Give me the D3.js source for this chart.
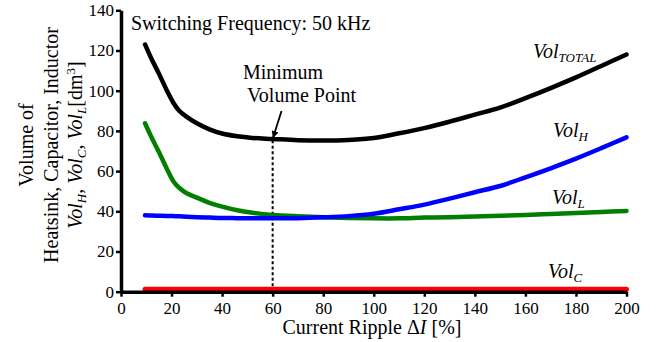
<!DOCTYPE html>
<html><head><meta charset="utf-8">
<script src="https://cdn.jsdelivr.net/npm/d3@7"></script>
<style>body{margin:0;background:#fff;}</style></head>
<body>
<svg id="c" width="664" height="342" font-family="Liberation Serif"></svg>
<script>
const ripple   = [9.5,12,15,18,20.7,23,26,30,35,40,46,52,60,70,80,90,100,110,120,130,140,150,160,170,180,190,200];
const volTotal = [123,116,108.5,100.5,94,90,87,83.8,80.8,78.7,77.3,76.5,76,75.4,75.2,75.5,76.5,78.8,81.4,84.6,88.1,91.6,96.3,101.3,106.6,112.3,118];
const volH     = [38,37.9,37.8,37.7,37.6,37.5,37.3,37.1,36.9,36.7,36.6,36.5,36.5,36.6,37,37.6,38.8,41,43.3,46.3,49.5,52.6,56.9,61.4,66.2,71.4,76.8];
const volL     = [83.8,77,69.5,61.5,55,51.7,49,46.8,44.2,42.3,40.5,39.3,38.2,37.5,37,36.7,36.5,36.5,36.9,37.1,37.4,37.8,38.2,38.7,39.2,39.7,40.2];
const volC     = [1.2,1.2,1.2,1.2,1.2,1.2,1.2,1.2,1.2,1.2,1.2,1.2,1.2,1.2,1.2,1.2,1.2,1.2,1.2,1.2,1.2,1.2,1.2,1.2,1.2,1.2,1.2];
const xTicks = [0,20,40,60,80,100,120,140,160,180,200];
const yTicks = [0,20,40,60,80,100,120,140];
const minPoint = {x:60, y:76};

const FF = "Liberation Serif";
const svg = d3.select("#c");
const x = d3.scaleLinear().domain([0,200]).range([121,626.5]);
const y = d3.scaleLinear().domain([0,140]).range([291.7,10.3]);

const line = d3.line().x((d,i)=>x(ripple[i])).y(d=>y(d)).curve(d3.curveCatmullRom.alpha(0.5));

svg.append("line").attr("x1",x(minPoint.x)).attr("x2",x(minPoint.x))
  .attr("y1",y(0)).attr("y2",y(minPoint.y)).attr("stroke","#000")
  .attr("stroke-width",2).attr("stroke-dasharray","3,2.5");

const series = [
  {v:volC, c:"#ff0000", w:5},
  {v:volL, c:"#007f00", w:4.5},
  {v:volH, c:"#0000ff", w:4.5},
  {v:volTotal, c:"#000000", w:4.5}
];
series.forEach(s=>{
  svg.append("path").attr("d",line(s.v)).attr("fill","none")
    .attr("stroke",s.c).attr("stroke-width",s.w).attr("stroke-linecap","round").attr("stroke-linejoin","round");
});

const xa = svg.append("g").attr("transform",`translate(0,${y(0)})`)
  .call(d3.axisBottom(x).tickValues(xTicks).tickSize(5).tickSizeOuter(0).tickPadding(5));
const ya = svg.append("g").attr("transform",`translate(${x(0)},0)`)
  .call(d3.axisLeft(y).tickValues(yTicks).tickSize(5).tickSizeOuter(0).tickPadding(2));
[xa,ya].forEach(a=>{
  a.attr("font-family",FF).attr("font-size",17);
  a.select(".domain").attr("stroke","#000").attr("stroke-width",3.5);
  a.selectAll(".tick line").attr("stroke","#000").attr("stroke-width",2.5);
  a.selectAll("text").attr("font-family",FF).attr("font-size",17).attr("fill","#000");
});

function txt(parent, xp, yp, size, s){
  return parent.append("text").attr("x",xp).attr("y",yp)
    .attr("font-family",FF).attr("font-size",size).attr("fill","#000").text(s);
}
txt(svg,131,30,20,"Switching Frequency: 50 kHz");
txt(svg,243,79,20,"Minimum");
txt(svg,247,102,20,"Volume Point");

svg.append("defs").append("marker").attr("id","ah").attr("viewBox","0 0 10 10")
  .attr("refX",9).attr("refY",5).attr("markerWidth",4).attr("markerHeight",4).attr("orient","auto")
  .append("path").attr("d","M0,0L10,5L0,10z").attr("fill","#000");
svg.append("line").attr("x1",281.5).attr("y1",111).attr("x2",x(minPoint.x)+0.5).attr("y2",y(minPoint.y)-1.5)
  .attr("stroke","#000").attr("stroke-width",1.8).attr("marker-end","url(#ah)");

function volLabel(xp, yp, sub){
  const t = txt(svg,xp,yp,20,null).attr("font-style","italic");
  t.append("tspan").text("Vol");
  t.append("tspan").attr("font-size",13).attr("dy",4).text(sub);
}
volLabel(533,58,"TOTAL");
volLabel(553,137,"H");
volLabel(552,204,"L");
volLabel(548,278,"C");

const xt = txt(svg,372,334,20,null).attr("text-anchor","middle");
xt.append("tspan").text("Current Ripple ");
xt.append("tspan").text("Δ");
xt.append("tspan").attr("font-style","italic").text("I");
xt.append("tspan").text(" [%]");

const yt = svg.append("g").attr("transform","translate(0,145) rotate(-90)");
txt(yt,0,33,20,"Volume of").attr("text-anchor","middle");
txt(yt,0,58,20,"Heatsink, Capacitor, Inductor").attr("text-anchor","middle");
const l3 = txt(yt,0,82,20,null).attr("text-anchor","middle");
l3.append("tspan").attr("font-style","italic").text("Vol");
l3.append("tspan").attr("font-style","italic").attr("font-size",13).attr("dy",4).text("H");
l3.append("tspan").attr("dy",-4).text(", ");
l3.append("tspan").attr("font-style","italic").text("Vol");
l3.append("tspan").attr("font-style","italic").attr("font-size",13).attr("dy",4).text("C");
l3.append("tspan").attr("dy",-4).text(", ");
l3.append("tspan").attr("font-style","italic").text("Vol");
l3.append("tspan").attr("font-style","italic").attr("font-size",13).attr("dy",4).text("L");
l3.append("tspan").attr("dy",-4).text("[dm");
l3.append("tspan").attr("font-size",13).attr("dy",-7).text("3");
l3.append("tspan").attr("dy",7).text("]");
</script></body></html>
